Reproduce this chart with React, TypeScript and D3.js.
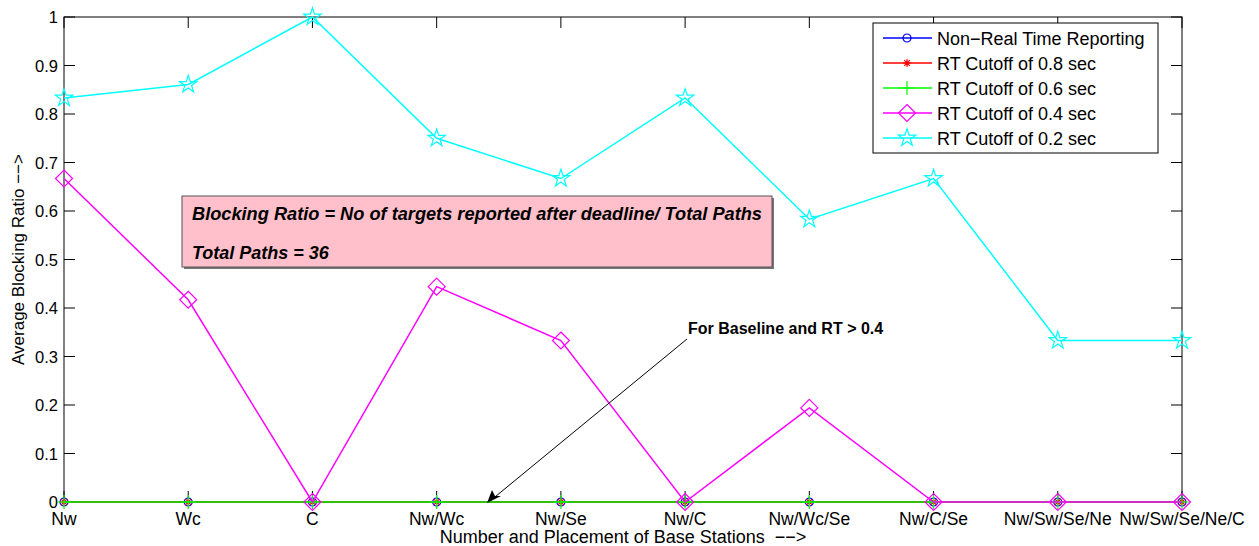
import * as d3 from "d3";

const categories = ["Nw", "Wc", "C", "Nw/Wc", "Nw/Se", "Nw/C", "Nw/Wc/Se", "Nw/C/Se", "Nw/Sw/Se/Ne", "Nw/Sw/Se/Ne/C"];
const nonRealTime = [0, 0, 0, 0, 0, 0, 0, 0, 0, 0];
const rt08 = [0, 0, 0, 0, 0, 0, 0, 0, 0, 0];
const rt06 = [0, 0, 0, 0, 0, 0, 0, 0, 0, 0];
const rt04 = [0.667, 0.417, 0, 0.444, 0.333, 0, 0.194, 0, 0, 0];
const rt02 = [0.833, 0.861, 1, 0.75, 0.667, 0.833, 0.583, 0.667, 0.333, 0.333];
const yTicks = [0, 0.1, 0.2, 0.3, 0.4, 0.5, 0.6, 0.7, 0.8, 0.9, 1];
const yTickLabels = ["0", "0.1", "0.2", "0.3", "0.4", "0.5", "0.6", "0.7", "0.8", "0.9", "1"];

const series = [
  { name: "Non\u2212Real Time Reporting", values: nonRealTime, color: "#0000ff", marker: "circle" },
  { name: "RT Cutoff of 0.8 sec", values: rt08, color: "#ff0000", marker: "asterisk" },
  { name: "RT Cutoff of 0.6 sec", values: rt06, color: "#00ff00", marker: "plus" },
  { name: "RT Cutoff of 0.4 sec", values: rt04, color: "#ff00ff", marker: "diamond" },
  { name: "RT Cutoff of 0.2 sec", values: rt02, color: "#00ffff", marker: "star" },
];

const W = 1259, H = 546;
const left = 64, right = 1182, top = 17, bottom = 502;
const font = "'Liberation Sans', Arial, Helvetica, sans-serif";

function Marker({ type, color }: { type: string; color: string }) {
  const sw = 1.2;
  if (type === "circle") return <circle r={4} fill="none" stroke={color} strokeWidth={sw} />;
  if (type === "asterisk") {
    const r = 4;
    const d = r * 0.707;
    return <path d={`M${-r},0L${r},0M0,${-r}L0,${r}M${-d},${-d}L${d},${d}M${-d},${d}L${d},${-d}`} stroke={color} strokeWidth={sw} />;
  }
  if (type === "plus") return <path d="M-7,0L7,0M0,-7L0,7" stroke={color} strokeWidth={sw} />;
  if (type === "diamond") return <path d="M0,-8.5L8.5,0L0,8.5L-8.5,0Z" fill="none" stroke={color} strokeWidth={sw} />;
  const star = d3.symbol(d3.symbolStar, 95)() || "";
  return <path d={star} fill="none" stroke={color} strokeWidth={sw} />;
}

export default function App() {
  const x = d3.scaleLinear().domain([0, categories.length - 1]).range([left, right]);
  const y = d3.scaleLinear().domain([0, 1]).range([bottom, top]);
  const line = d3.line<number>().x((_, i) => x(i)).y(d => y(d));

  const legendX = 873, legendY = 23, legendW = 285, legendH = 130;

  return (
    <svg width={W} height={H} style={{ position: "absolute", left: 0, top: 0, background: "#fff" }} fontFamily={font}>
      <rect x={0} y={0} width={W} height={H} fill="#fff" />
      {/* axes box */}
      <rect x={left} y={top} width={right - left} height={bottom - top} fill="none" stroke="#000" strokeWidth={1} />
      {yTicks.map((t, i) => (
        <g key={"y" + i}>
          <line x1={left} x2={left + 11} y1={y(t)} y2={y(t)} stroke="#000" />
          <line x1={right} x2={right - 11} y1={y(t)} y2={y(t)} stroke="#000" />
          <text x={left - 6} y={y(t) + 6} textAnchor="end" fontSize={16.5}>{yTickLabels[i]}</text>
        </g>
      ))}
      {categories.map((c, i) => (
        <g key={"x" + i}>
          <line x1={x(i)} x2={x(i)} y1={bottom} y2={bottom - 11} stroke="#000" />
          <line x1={x(i)} x2={x(i)} y1={top} y2={top + 11} stroke="#000" />
          <text x={x(i)} y={bottom + 23} textAnchor="middle" fontSize={17.5}>{c}</text>
        </g>
      ))}
      <text x={(left + right) / 2} y={543} textAnchor="middle" fontSize={18} style={{ whiteSpace: "pre" }}>{"Number and Placement of Base Stations  \u2212\u2212>"}</text>
      <text transform={`translate(24,${(top + bottom) / 2}) rotate(-90)`} textAnchor="middle" fontSize={17}>{"Average Blocking Ratio \u2212\u2212>"}</text>

      {/* series */}
      {series.map(s => (
        <g key={s.name}>
          <path d={line(s.values) || ""} fill="none" stroke={s.color} strokeWidth={1.5} />
          {s.values.map((v, i) => (
            <g key={i} transform={`translate(${x(i)},${y(v)})`}>
              <Marker type={s.marker} color={s.color} />
            </g>
          ))}
        </g>
      ))}

      {/* info box */}
      <rect x={184} y={198} width={590} height={71} fill="#777" />
      <rect x={182} y={196} width={590} height={71} fill="#ffc0cb" stroke="#555" strokeWidth={1} />
      <text x={192} y={220} fontSize={18} fontWeight="bold" fontStyle="italic" textLength={570} lengthAdjust="spacingAndGlyphs">Blocking Ratio = No of targets reported after deadline/ Total Paths</text>
      <text x={192} y={259} fontSize={18} fontWeight="bold" fontStyle="italic">Total Paths = 36</text>

      {/* arrow annotation */}
      <text x={688} y={334} fontSize={16}>
        <tspan fontWeight="bold">For Baseline and RT &gt; 0.4</tspan>
      </text>
      <line x1={687} y1={339} x2={490} y2={501} stroke="#000" strokeWidth={1} />
      <path d="M487,503L492,490L495,496L501,496Z" fill="#000" />

      {/* legend */}
      <rect x={legendX} y={legendY} width={legendW} height={legendH} fill="#fff" stroke="#000" strokeWidth={1} />
      {series.map((s, i) => {
        const ly = 38 + i * 25;
        return (
          <g key={"l" + i}>
            <line x1={883} x2={932} y1={ly} y2={ly} stroke={s.color} strokeWidth={1.5} />
            <g transform={`translate(907,${ly})`}>
              <Marker type={s.marker} color={s.color} />
            </g>
            <text x={937} y={ly + 6.5} fontSize={18}>{s.name}</text>
          </g>
        );
      })}
    </svg>
  );
}
